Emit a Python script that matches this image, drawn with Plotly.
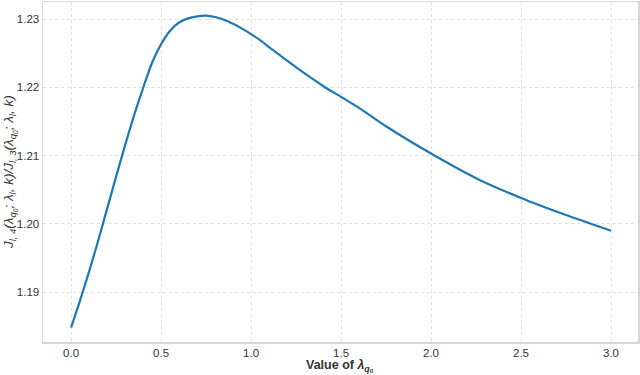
import plotly.graph_objects as go

lam_q0 = [0, 0.05, 0.1, 0.15, 0.2, 0.25, 0.3, 0.35, 0.4, 0.45, 0.5, 0.55, 0.6, 0.65,
          0.7, 0.75, 0.8, 0.85, 0.9, 0.95, 1.0, 1.05, 1.1, 1.2, 1.3, 1.4, 1.5, 1.6,
          1.75, 2.0, 2.25, 2.5, 2.75, 3.0]
ratio = [1.1848, 1.1888, 1.1930, 1.1975, 1.2022, 1.2069, 1.2115, 1.2159, 1.2199,
         1.2236, 1.2263, 1.2283, 1.2295, 1.2301, 1.2304, 1.2305, 1.2303, 1.2299,
         1.2293, 1.2286, 1.2278, 1.2269, 1.2259, 1.2239, 1.2220, 1.2202, 1.2186,
         1.2170, 1.2143, 1.2103, 1.2067, 1.2038, 1.2013, 1.1990]

x_ticks = [0.0, 0.5, 1.0, 1.5, 2.0, 2.5, 3.0]
y_ticks = [1.19, 1.20, 1.21, 1.22, 1.23]

x_title = "<b>Value of <i>λ</i><sub><i>q</i><sub>0</sub></sub></b>"
y_title = ("<i>J<sub>l, 4</sub>(λ<sub>q<sub>0</sub></sub>; λ<sub>l</sub>, k)/"
           "J<sub>l, 3</sub>(λ<sub>q<sub>0</sub></sub>; λ<sub>l</sub>, k)</i>")

fig = go.Figure()
fig.add_trace(go.Scatter(x=lam_q0, y=ratio, mode="lines",
                         line=dict(color="#1f77b4", width=2.2, shape="spline", smoothing=0.7),
                         showlegend=False, hoverinfo="skip"))

font = "Liberation Sans, Arial, sans-serif"
axis_common = dict(showgrid=True, gridcolor="#e0e0e0", griddash="dot", gridwidth=1,
                   showline=True, linecolor="#d6d6d6", linewidth=1.5, mirror=True,
                   zeroline=False, ticks="", automargin=False,
                   tickfont=dict(size=11.5, color="#333333"))
fig.update_layout(
    width=640, height=375,
    margin=dict(l=43, r=2, t=2, b=33, autoexpand=False),
    paper_bgcolor="white", plot_bgcolor="white",
    font=dict(family=font, size=11, color="#333333"),
    xaxis=dict(range=[-0.156, 3.15], tickvals=x_ticks,
               ticktext=[f"{v:.1f}" for v in x_ticks], **axis_common),
    yaxis=dict(range=[1.1827, 1.2325], tickvals=y_ticks,
               ticktext=[f"{v:.2f}" for v in y_ticks], **axis_common),
    annotations=[
        dict(text=x_title, xref="paper", yref="paper", x=0.499, y=-0.042,
             xanchor="center", yanchor="top", showarrow=False,
             font=dict(size=12.5, color="#333333", family=font)),
        dict(text=y_title, xref="paper", yref="paper", x=-0.0555, y=0.5,
             xanchor="center", yanchor="middle", textangle=-90, showarrow=False,
             font=dict(size=13.5, color="#333333", family=font)),
    ],
)

fig.write_html("out.html", config={"displayModeBar": False, "staticPlot": True},
               post_script="document.body.style.margin='0';document.body.style.overflow='hidden';")
